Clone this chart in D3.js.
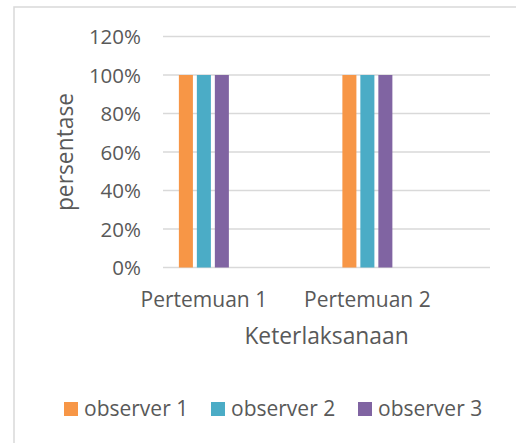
<!DOCTYPE html>
<html>
<head>
<meta charset="utf-8">
<script src="https://cdn.jsdelivr.net/npm/d3@7"></script>
<style>
  html, body { margin: 0; padding: 0; background: #fff; }
  svg { display: block; }
  text { font-family: "Open Sans", sans-serif; fill: #595959; }
</style>
</head>
<body>
<svg id="chart" width="516" height="443"></svg>
<script>
const categories = ["Pertemuan 1", "Pertemuan 2"];
const seriesNames = ["observer 1", "observer 2", "observer 3"];
const seriesValues = [
  [1.0, 1.0],  // observer 1
  [1.0, 1.0],  // observer 2
  [1.0, 1.0]   // observer 3
];
const yTicks = [0, 0.2, 0.4, 0.6, 0.8, 1.0, 1.2];
const colors = ["#F79646", "#4BACC6", "#8064A2"];
const yTitle = "persentase";
const xTitle = "Keterlaksanaan";

const svg = d3.select("#chart");

// chart border
svg.append("rect")
  .attr("x", 14).attr("y", 7)
  .attr("width", 530).attr("height", 460)
  .attr("fill", "none").attr("stroke", "#D9D9D9").attr("stroke-width", 1.5);

const plot = { left: 163, right: 490, top: 36.5, bottom: 267.5 };

const x0 = d3.scaleBand().domain(categories).range([plot.left, plot.right]).padding(0);
const groupCenter = c => x0(c) + x0.bandwidth() * 0.25;
const x1 = d3.scaleBand().domain(seriesNames).range([-25, 25]).paddingInner(0.22).paddingOuter(0);
const y = d3.scaleLinear().domain([0, 1.2]).range([plot.bottom, plot.top]);

// gridlines
svg.append("g")
  .selectAll("line")
  .data(yTicks)
  .join("line")
  .attr("x1", plot.left).attr("x2", plot.right)
  .attr("y1", d => y(d)).attr("y2", d => y(d))
  .attr("stroke", "#D9D9D9").attr("stroke-width", 1.5);

// y axis labels
const yAxis = d3.axisLeft(y).tickValues(yTicks).tickFormat(d3.format(".0%")).tickSize(0).tickPadding(0);
const yg = svg.append("g").attr("transform", `translate(141,0)`).call(yAxis);
yg.select(".domain").remove();
yg.selectAll("text")
  .style("font-family", '"Open Sans", sans-serif')
  .style("font-size", "20.5px")
  .attr("fill", "#595959")
  .attr("dy", "0.36em");

// bars
seriesNames.forEach((s, si) => {
  svg.append("g")
    .selectAll("rect")
    .data(categories.map((c, ci) => ({ c, v: seriesValues[si][ci] })))
    .join("rect")
    .attr("x", d => groupCenter(d.c) + x1(s))
    .attr("y", d => y(d.v))
    .attr("width", x1.bandwidth())
    .attr("height", d => y(0) - y(d.v))
    .attr("fill", colors[si]);
});

// x category labels
svg.append("g")
  .selectAll("text")
  .data(categories)
  .join("text")
  .attr("x", d => groupCenter(d))
  .attr("y", 307)
  .attr("text-anchor", "middle")
  .style("font-size", "21px")
  .text(d => d);

// axis titles
svg.append("text")
  .attr("x", (plot.left + plot.right) / 2)
  .attr("y", 344)
  .attr("text-anchor", "middle")
  .style("font-size", "22.8px")
  .text(xTitle);

svg.append("text")
  .attr("transform", `translate(73,${(plot.top + plot.bottom) / 2}) rotate(-90)`)
  .attr("text-anchor", "middle")
  .style("font-size", "22.8px")
  .text(yTitle);

// legend
const legendX = [64, 211, 358];
const lg = svg.append("g");
seriesNames.forEach((s, i) => {
  lg.append("rect")
    .attr("x", legendX[i]).attr("y", 402)
    .attr("width", 14).attr("height", 14)
    .attr("fill", colors[i]);
  lg.append("text")
    .attr("x", legendX[i] + 20).attr("y", 415.5)
    .style("font-size", "21px")
    .text(s);
});
</script>
</body>
</html>
